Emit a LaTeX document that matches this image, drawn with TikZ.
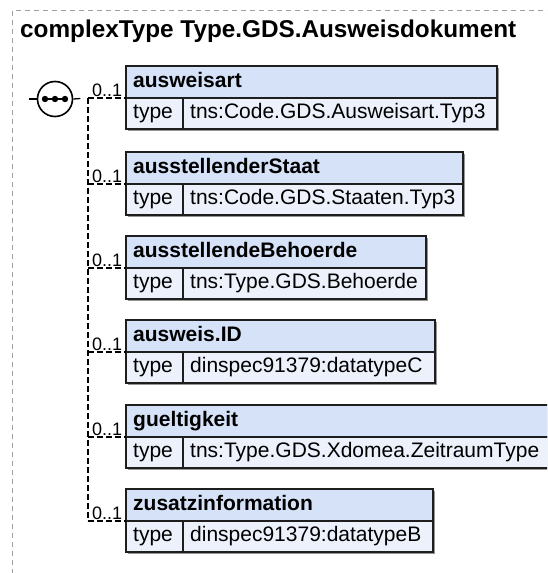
\documentclass[tikz,border=0pt]{standalone}
\usepackage{fontspec}
\setmainfont{Liberation Sans}
\usetikzlibrary{calc}
\definecolor{hdrfill}{RGB}{214,226,247}
\definecolor{rowfill}{RGB}{236,241,251}
\definecolor{edge}{RGB}{30,30,30}
\definecolor{outerc}{RGB}{160,160,160}
\definecolor{shadowc}{RGB}{150,150,150}
\tikzset{
  hdr/.style={rectangle, draw=edge, fill=hdrfill, line width=1.5pt, inner sep=0pt, outer sep=0pt, minimum height=32pt, anchor=north west},
  rowcell/.style={rectangle, draw=edge, fill=rowfill, line width=1.5pt, inner sep=0pt, outer sep=0pt, minimum height=31pt, anchor=north west},
  htext/.style={anchor=base west, inner sep=0pt, font=\fontsize{21}{25}\selectfont\bfseries},
  rtext/.style={anchor=base west, inner sep=0pt, font=\fontsize{21}{25}\selectfont},
  card/.style={anchor=base west, inner sep=0pt, font=\fontsize{18}{21}\selectfont},
  conn/.style={draw=black, line width=1.3pt, dash pattern=on 6pt off 3pt},
  outerframe/.style={draw=outerc, line width=1pt, dash pattern=on 5pt off 4pt},
  shade/.style={fill=shadowc}
}
% #1 name, #2 top y, #3 right x, #4 title, #5 type
\newcommand\xsdbox[5]{%
  \fill[shade] (128,#2+2) rectangle (#3+2,#2+65);
  \node[hdr, minimum width=#3-126] (#1) at (126,#2) {};
  \node[htext] (#1t) at (133,#2+21.5) {#4};
  \node[rowcell, minimum width=57] (#1k) at (#1.south west) {};
  \node[rowcell, minimum width=#3-183] (#1v) at (#1k.north east) {};
  \node[rtext] (#1kt) at (133,#2+52.5) {type};
  \node[rtext] (#1vt) at (190,#2+52.5) {#5};
}
\begin{document}
\begin{tikzpicture}[x=1pt,y=-1pt]
\useasboundingbox (0,0) rectangle (547,573);
\clip (0,0) rectangle (547,573);
\draw[outerframe] (12.5,10.5) rectangle (620,640);
\node[anchor=base west, inner sep=0pt, font=\fontsize{24.3}{29}\selectfont\bfseries] (title) at (20,37.5) {complexType Type.GDS.Ausweisdokument};

% compositor
\node[circle, draw=black, fill=white, line width=1.6pt, minimum size=35pt, inner sep=0pt] (seq) at (55,99) {};
\draw[line width=2pt] (45,99) -- (65,99);
\foreach \xx in {45,55,65} \fill (\xx,99) circle (3.2pt);
\coordinate (lin) at (29,99);
\draw[line width=1.3pt] (lin) -- (seq.west);

% boxes
\xsdbox{b1}{66}{497}{ausweisart}{tns:Code.GDS.Ausweisart.Typ3}
\xsdbox{b2}{152}{463}{ausstellenderStaat}{tns:Code.GDS.Staaten.Typ3}
\xsdbox{b3}{236}{426}{ausstellendeBehoerde}{tns:Type.GDS.Behoerde}
\xsdbox{b4}{320}{435}{ausweis.ID}{dinspec91379:datatypeC}
\xsdbox{b5}{405}{560}{gueltigkeit}{tns:Type.GDS.Xdomea.ZeitraumType}
\xsdbox{b6}{489}{433}{zusatzinformation}{dinspec91379:datatypeB}

% connectors
\foreach \i/\yy in {1/98,2/184,3/268,4/352,5/437,6/521} {
  \coordinate (j\i) at (88,\yy);
}
\draw[line width=1.3pt, dash pattern=on 7pt off 9pt] (seq.east) -- (j1);
\draw[conn] (j1) -- (j6);
\foreach \i in {1,...,6} {
  \draw[conn] (j\i) -- (b\i.south west);
  \node[card] (c\i) at ($(j\i)+(4,-2)$) {0..1};
}
\end{tikzpicture}
\end{document}
